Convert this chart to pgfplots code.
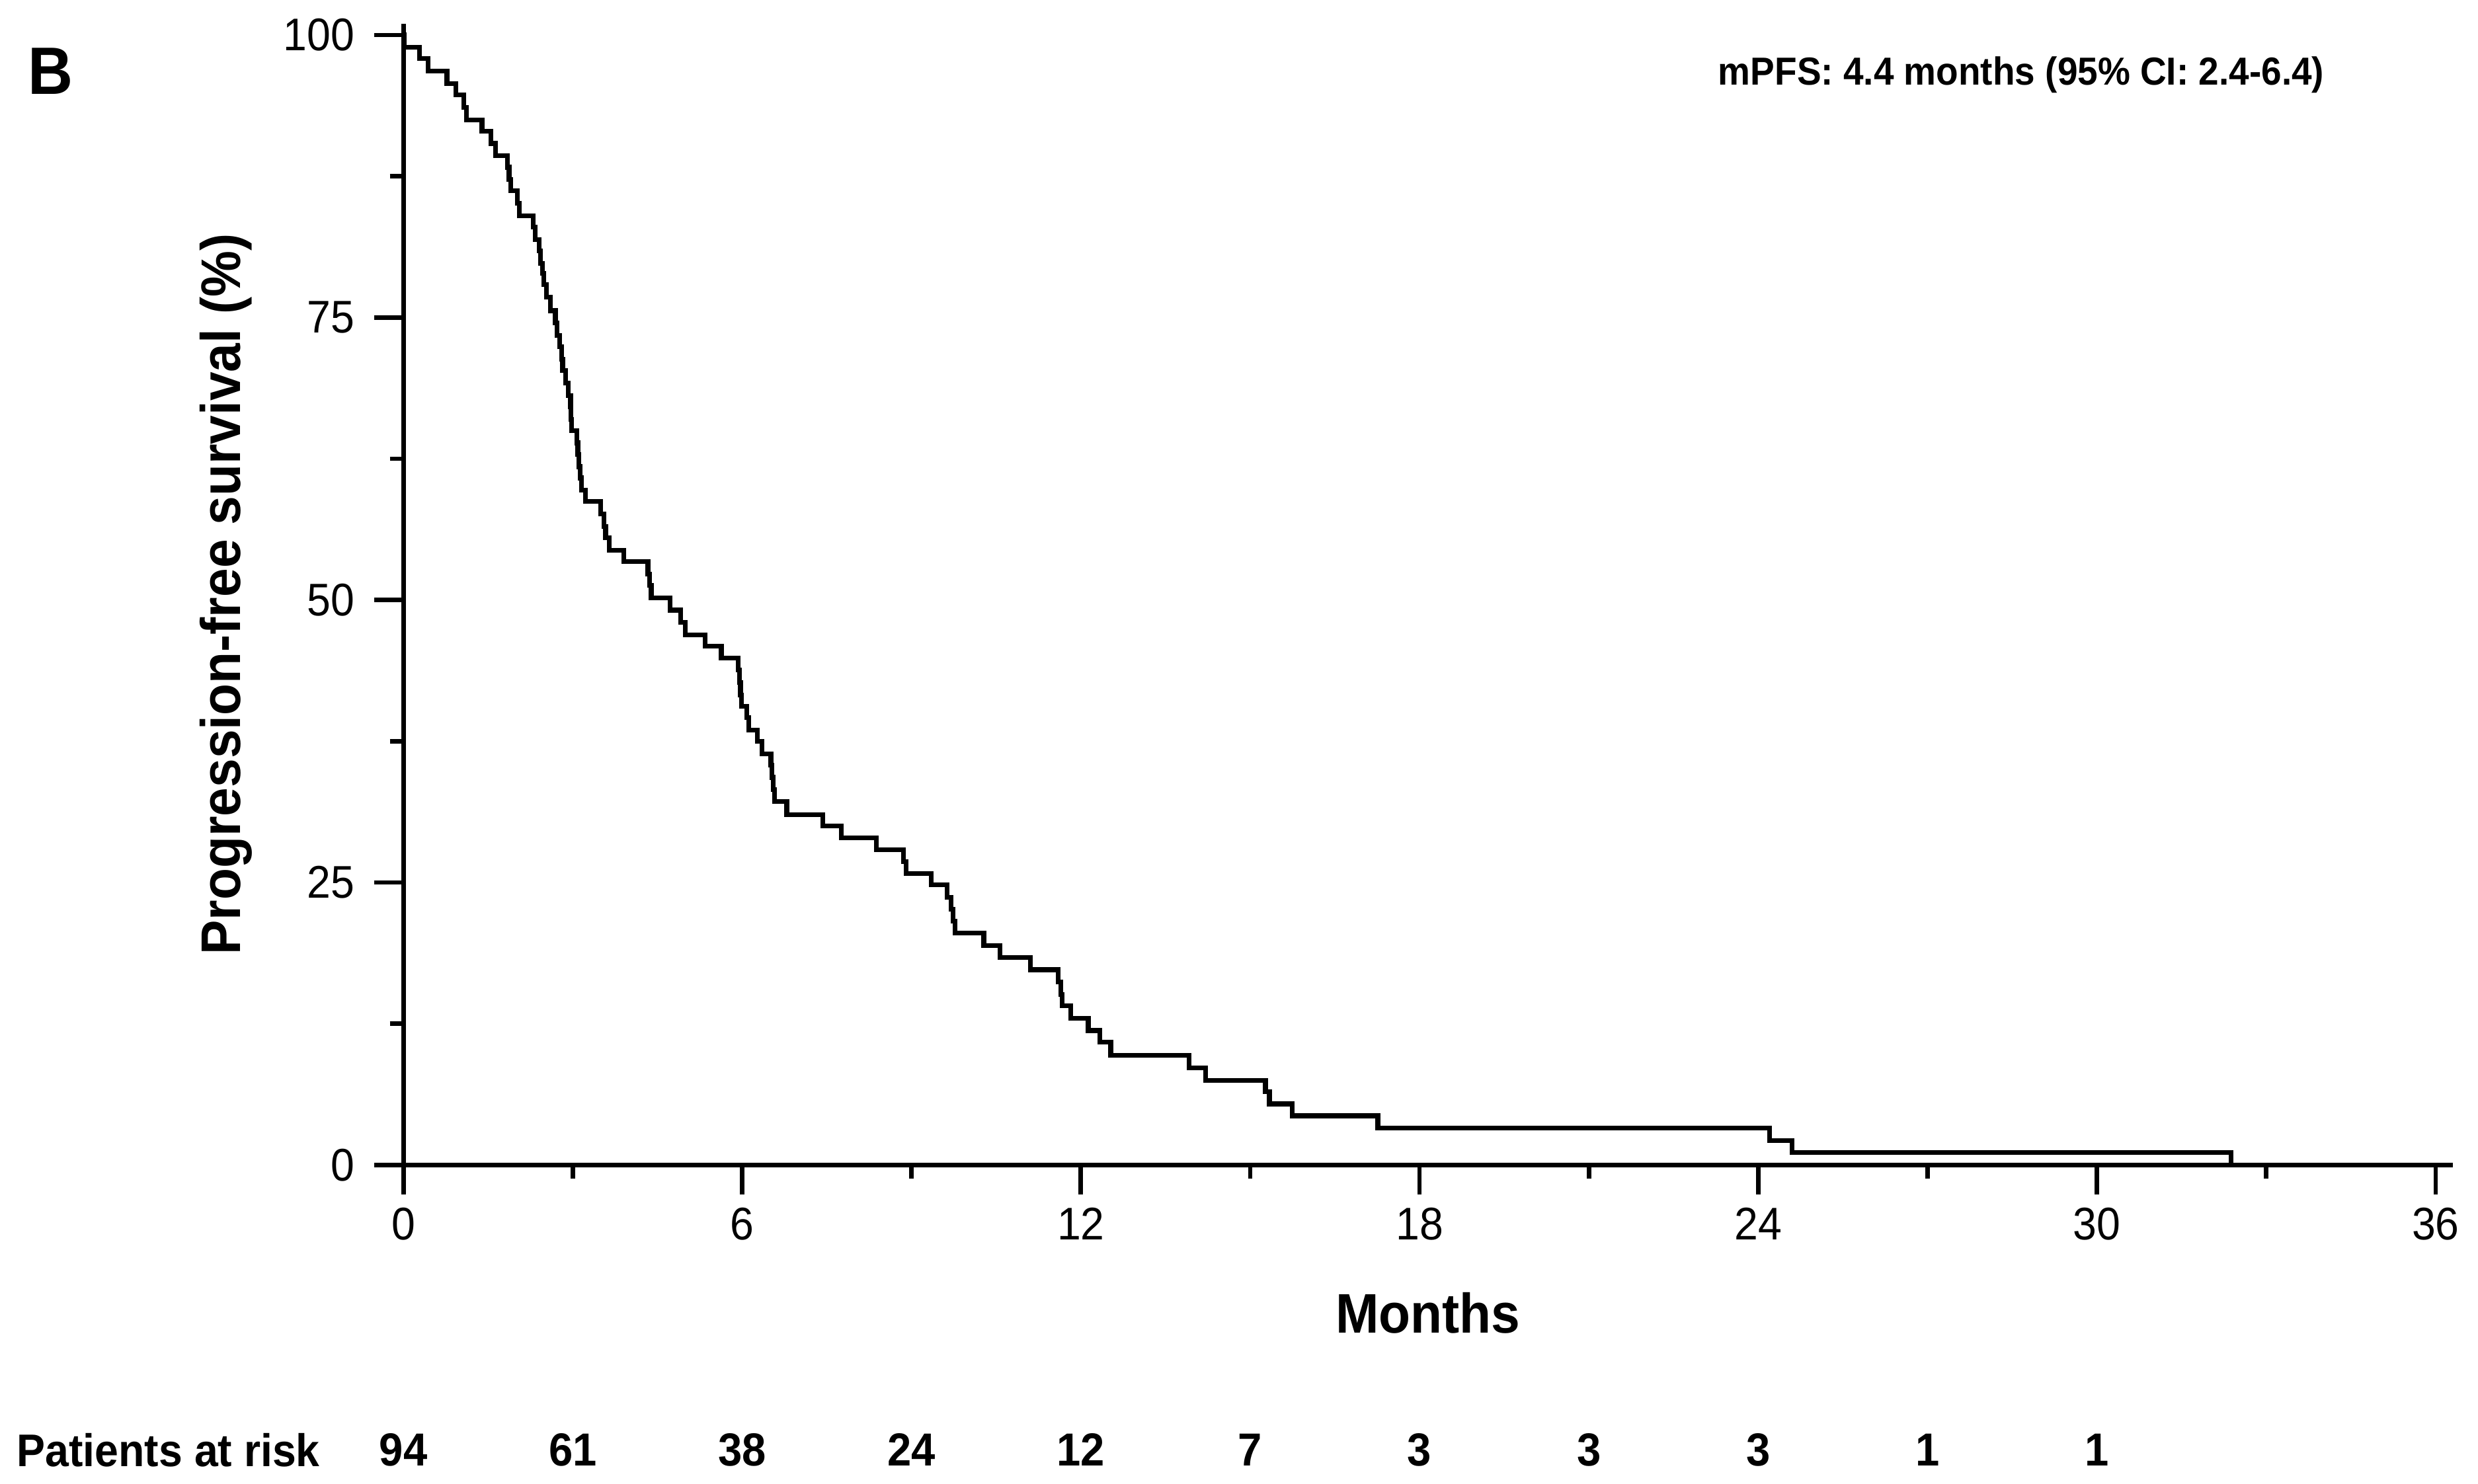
\documentclass[border=0pt]{standalone}
\usepackage{fontspec}
\setmainfont{Liberation Sans}[FakeStretch=0.93]
\usepackage{pgfplots}
\pgfplotsset{compat=1.18}

\begin{document}
\begin{tikzpicture}
\path[use as bounding box] (-25.4mm,-20.05mm) rectangle (130.6mm,73.35mm);
\begin{axis}[
  at={(0,0)}, anchor=south west,
  scale only axis, width=129.0mm, height=71.86mm,
  xmin=0, xmax=36.3, ymin=0, ymax=101,
  axis lines=left, axis line style={-, line width=0.8pt},
  xtick={0,6,...,36}, minor xtick={3,9,...,33},
  ytick={0,25,50,75,100}, minor ytick={12.5,37.5,62.5,87.5},
  tick align=outside, major tick length=1.85mm, minor tick length=0.86mm,
  tick style={black, line width=0.8pt},
  /pgf/number format/assume math mode=true,
  ticklabel style={font=\fontsize{8.2}{9}\selectfont},
  xticklabel style={yshift=0.4mm},
  xlabel={Months},
  ylabel={Progression-free survival (\%)},
  xlabel style={at={(axis description cs:0.5,-0.130)}, anchor=center,
    font=\bfseries\fontsize{10}{12}\selectfont},
  ylabel style={at={(axis description cs:-0.0867,0.5)}, anchor=center,
    font=\bfseries\fontsize{10}{12}\selectfont},
  clip=false,
]
% Kaplan-Meier PFS curve
\addplot[const plot, black, line width=0.85pt] coordinates {
(0,100) (0.01,98.9) (0.28,97.9) (0.44,96.8) (0.77,95.7) (0.93,94.7)
(1.07,93.6) (1.12,92.5) (1.39,91.5) (1.55,90.4) (1.63,89.3) (1.84,88.3)
(1.87,87.2) (1.90,86.2) (2.02,85.1) (2.05,84.0) (2.30,83.0) (2.33,81.9)
(2.40,80.9) (2.43,79.8) (2.46,78.9) (2.49,77.9) (2.53,76.8) (2.60,75.6)
(2.69,74.5) (2.72,73.4) (2.77,72.4) (2.80,71.3) (2.82,70.3) (2.87,69.2)
(2.92,68.1) (2.96,67.1) (2.97,66.0) (2.98,65.0) (3.07,63.9) (3.09,62.9)
(3.11,61.8) (3.13,60.8) (3.15,59.7) (3.22,58.7) (3.49,57.6) (3.55,56.5)
(3.58,55.5) (3.65,54.4) (3.90,53.4) (4.33,52.3) (4.36,51.3) (4.39,50.2)
(4.72,49.1) (4.91,48.0) (4.99,46.9) (5.34,45.9) (5.63,44.85) (5.93,43.8)
(5.95,42.7) (5.97,41.6) (5.99,40.6) (6.08,39.6) (6.12,38.5) (6.27,37.5)
(6.35,36.4) (6.51,35.4) (6.53,34.3) (6.55,33.2) (6.57,32.15) (6.79,31.0)
(7.43,30.0) (7.76,28.95) (8.38,27.9) (8.86,26.85) (8.90,25.8) (9.35,24.8)
(9.63,23.7) (9.70,22.65) (9.74,21.6) (9.77,20.5) (10.28,19.43) (10.57,18.35)
(11.11,17.28) (11.60,16.2) (11.64,15.1) (11.67,14.1) (11.82,13.0) (12.13,11.9)
(12.34,10.85) (12.53,9.7) (13.92,8.6) (14.21,7.5) (15.27,6.5) (15.34,5.4)
(15.74,4.35) (17.26,3.25) (24.2,2.15) (24.6,1.1) (32.38,0)
};
% patients at risk, every 3 months
\addplot[draw=none, mark=none, nodes near coords, point meta=explicit symbolic,
  every node near coord/.append style={anchor=center, inner sep=0pt,
    font=\bfseries\fontsize{8.3}{10}\selectfont}] coordinates {
(0,-25.2)[94] (3,-25.2)[61] (6,-25.2)[38] (9,-25.2)[24] (12,-25.2)[12]
(15,-25.2)[7] (18,-25.2)[3] (21,-25.2)[3] (24,-25.2)[3] (27,-25.2)[1] (30,-25.2)[1]
};
\end{axis}
\node[anchor=west, inner sep=0pt, font=\bfseries\fontsize{8.2}{10}\selectfont]
  at (-24.4mm,-17.95mm) {Patients at risk};
\node[anchor=center, inner sep=0pt, font=\bfseries\fontsize{12}{14}\selectfont]
  at (-22.2mm,68.85mm) {B};
\node[anchor=west, inner sep=0pt, font=\bfseries\fontsize{7}{8}\selectfont]
  at (82.7mm,68.65mm) {mPFS: 4.4 months (95\% CI: 2.4-6.4)};
\end{tikzpicture}
\end{document}
